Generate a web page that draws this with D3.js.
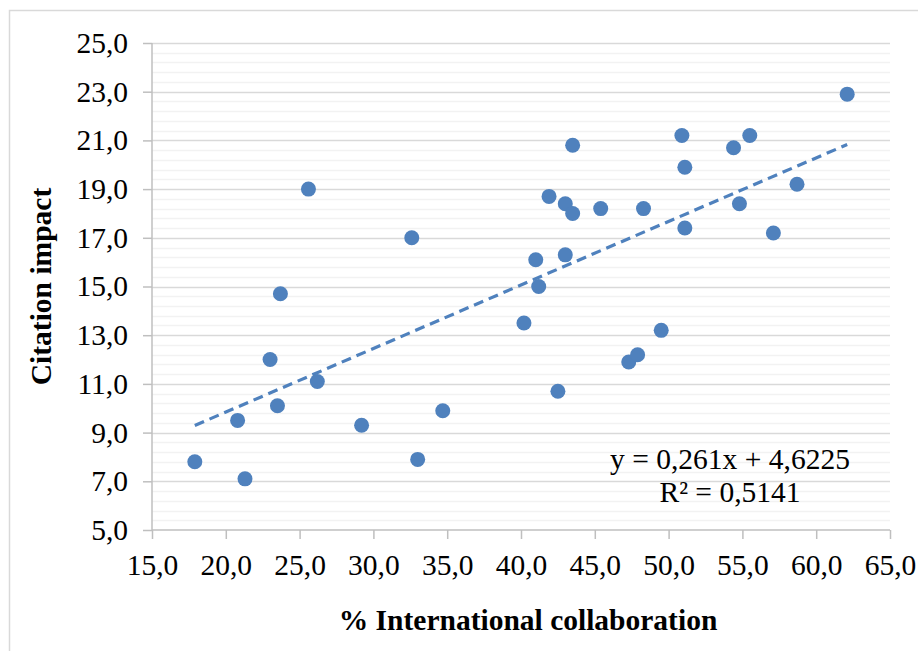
<!DOCTYPE html>
<html><head><meta charset="utf-8">
<script src="https://cdn.jsdelivr.net/npm/d3@7"></script>
<style>body{margin:0;background:#fff}svg{display:block}text{font-family:"Liberation Serif","Times New Roman",serif}</style>
</head><body><svg id="c" width="918" height="651"></svg>
<script>
const collab = [17.9,20.8,21.3,23.0,23.5,23.7,25.6,26.2,29.2,32.6,33.0,34.7,40.2,41.0,41.2,41.9,42.5,43.0,43.0,43.5,43.5,45.4,47.3,47.9,48.3,49.5,50.9,51.1,51.1,54.4,54.8,55.5,57.1,58.7,62.1];
const impact = [7.8,9.5,7.1,12.0,10.1,14.7,19.0,11.1,9.3,17.0,7.9,9.9,13.5,16.1,15.0,18.7,10.7,18.4,16.3,18.0,20.8,18.2,11.9,12.2,18.2,13.2,21.2,19.9,17.4,20.7,18.4,21.2,17.2,19.2,22.9];
const xTicks = [15,20,25,30,35,40,45,50,55,60,65];
const yTicks = [5,7,9,11,13,15,17,19,21,23,25];
const slope = 0.261, intercept = 4.6225;
const eqLabel = "y = 0,261x + 4,6225";
const r2Label = "R² = 0,5141";
const xTitle = "% International collaboration";
const yTitle = "Citation impact";

const svg = d3.select("#c");
const L=152,R=890,T=43,B=530;
const FS=29.5;
const x = d3.scaleLinear().domain([15,65]).range([L,R]);
const y = d3.scaleLinear().domain([5,25]).range([B,T]);
const fmt = d => d.toFixed(1).replace(".", ",");
const blue = "#4F81BD";

svg.append("rect").attr("x",9.5).attr("y",10.5).attr("width",930).attr("height",660)
  .attr("fill","none").attr("stroke","#D9D9D9").attr("stroke-width",1.5);

// minor gridlines
const minor = d3.range(5,25.001,0.4).filter(v=>Math.abs((v-5)/2-Math.round((v-5)/2))>1e-6);
svg.append("g").selectAll("line").data(minor).join("line")
  .attr("x1",L).attr("x2",R).attr("y1",d=>Math.round(y(d))+0.5).attr("y2",d=>Math.round(y(d))+0.5)
  .attr("stroke","#F2F2F2").attr("stroke-width",1.5);
svg.append("g").selectAll("line").data(yTicks.slice(1)).join("line")
  .attr("x1",L).attr("x2",R).attr("y1",d=>Math.round(y(d))+0.5).attr("y2",d=>Math.round(y(d))+0.5)
  .attr("stroke","#D9D9D9").attr("stroke-width",1.5);

// axes
const ya = d3.axisLeft(y).tickValues(yTicks).tickFormat(fmt).tickSize(9).tickPadding(15);
const gy = svg.append("g").attr("transform",`translate(${L},0)`).call(ya);
const xa = d3.axisBottom(x).tickValues(xTicks).tickFormat(fmt).tickSize(9).tickPadding(15);
const gx = svg.append("g").attr("transform",`translate(0,${B})`).call(xa);
[gx,gy].forEach(g=>{
  g.attr("font-family",null).attr("font-size",null);
  g.select(".domain").attr("stroke","#BFBFBF").attr("stroke-width",1.5);
  g.selectAll(".tick line").attr("stroke","#BFBFBF").attr("stroke-width",1.5);
  g.selectAll(".tick text").attr("font-size",FS).attr("fill","#000");
});
gx.select(".domain").attr("d",`M${L},0H${R}`);
gy.select(".domain").attr("d",`M0,${B}V${T}`);

// trendline
const x0=d3.min(collab), x1=d3.max(collab);
svg.append("line").attr("x1",x(x0)).attr("y1",y(slope*x0+intercept)).attr("x2",x(x1)).attr("y2",y(slope*x1+intercept))
  .attr("stroke",blue).attr("stroke-width",3.2).attr("stroke-dasharray","10,6");

// points
svg.append("g").selectAll("circle").data(collab).join("circle")
  .attr("cx",d=>x(d)).attr("cy",(d,i)=>y(impact[i])).attr("r",7.5).attr("fill",blue);

// equation
svg.append("text").attr("x",730).attr("y",468.5).attr("text-anchor","middle").attr("font-size",FS).text(eqLabel);
svg.append("text").attr("x",730).attr("y",502).attr("text-anchor","middle").attr("font-size",FS).text(r2Label);

// titles
svg.append("text").attr("x",528).attr("y",630).attr("text-anchor","middle").attr("font-size",FS).attr("font-weight","bold").text(xTitle);
svg.append("text").attr("transform",`translate(51,${(T+B)/2}) rotate(-90)`).attr("text-anchor","middle").attr("font-size",FS).attr("font-weight","bold").text(yTitle);
</script></body></html>
